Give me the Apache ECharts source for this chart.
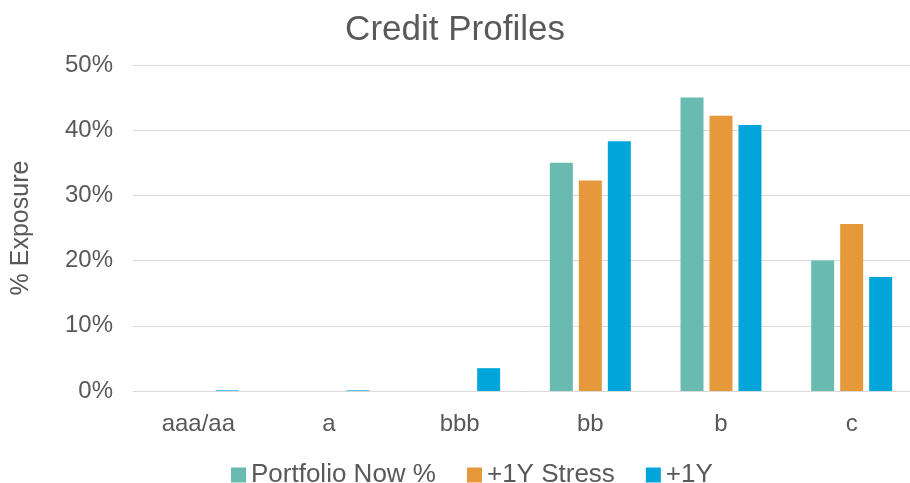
<!DOCTYPE html>
<html>
<head>
<meta charset="utf-8">
<script src="https://cdn.jsdelivr.net/npm/echarts@6/dist/echarts.min.js"></script>
<style>
  html, body { margin: 0; padding: 0; background: #fff; }
  #chart { width: 910px; height: 483px; }
</style>
</head>
<body>
<div id="chart"></div>
<script>
// categories and series (% exposure)
const categories = ['aaa/aa', 'a', 'bbb', 'bb', 'b', 'c'];
const portfolioNow = [0, 0, 0, 35.0, 45.0, 20.0];
const stress1Y = [0, 0, 0, 32.3, 42.2, 25.6];
const plus1Y = [0.1, 0.1, 3.5, 38.3, 40.8, 17.5];
const yTicks = { min: 0, max: 50, interval: 10 };

const textColor = '#595959';
const font = 'Liberation Sans, Arial, sans-serif';

const chart = echarts.init(document.getElementById('chart'));

const option = {
  animation: false,
  textStyle: { fontFamily: font },
  title: {
    text: 'Credit Profiles',
    left: 'center',
    top: 8,
    textStyle: { fontSize: 35, fontWeight: 'normal', color: textColor, fontFamily: font }
  },
  legend: {
    left: 231,
    top: 462,
    padding: 0,
    itemWidth: 15,
    itemHeight: 15,
    itemGap: 31,
    icon: 'rect',
    textStyle: { fontSize: 26, color: textColor, fontFamily: font }
  },
  grid: {
    left: 133,
    width: 784,
    top: 65,
    bottom: 92,
    outerBoundsMode: 'none'
  },
  xAxis: {
    type: 'category',
    data: categories,
    axisLine: { lineStyle: { color: '#d9d9d9', width: 1 } },
    axisTick: { show: false },
    axisLabel: { fontSize: 24, color: textColor, margin: 21, fontFamily: font }
  },
  yAxis: {
    type: 'value',
    min: yTicks.min,
    max: yTicks.max,
    interval: yTicks.interval,
    name: '% Exposure',
    nameLocation: 'middle',
    nameGap: 99,
    nameTextStyle: { fontSize: 25, color: textColor, fontFamily: font },
    axisLine: { show: false },
    axisTick: { show: false },
    axisLabel: { fontSize: 24, color: textColor, margin: 20, formatter: '{value}%', fontFamily: font },
    splitLine: { lineStyle: { color: '#d9d9d9', width: 1 } }
  },
  series: [
    { name: 'Portfolio Now %', type: 'bar', data: portfolioNow, barWidth: 23, barGap: '26%', itemStyle: { color: '#69bbb0' } },
    { name: '+1Y Stress', type: 'bar', data: stress1Y, barWidth: 23, barGap: '26%', itemStyle: { color: '#e5993a' } },
    { name: '+1Y', type: 'bar', data: plus1Y, barWidth: 23, barGap: '26%', itemStyle: { color: '#02a5d9' } }
  ]
};

chart.setOption(option);
</script>
</body>
</html>
